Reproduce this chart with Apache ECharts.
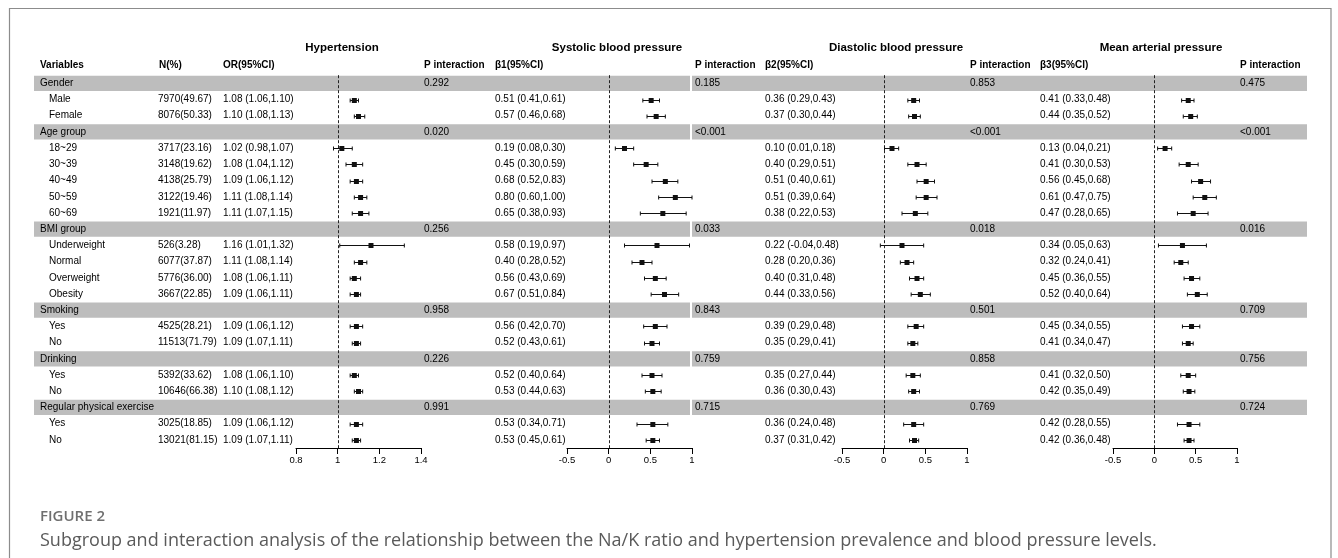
<!DOCTYPE html>
<html>
<head>
<meta charset="utf-8">
<script src="https://cdn.jsdelivr.net/npm/echarts@6/dist/echarts.min.js"></script>
<style>
html,body{margin:0;padding:0;background:#fff;}
#chart{width:1338px;height:558px;}
</style>
</head>
<body>
<div id="chart"></div>
<script>
// ---------------- DATA ----------------
const rowLabels = ['Gender','Male','Female','Age group','18~29','30~39','40~49','50~59','60~69',
  'BMI group','Underweight','Normal','Overweight','Obesity','Smoking','Yes','No',
  'Drinking','Yes','No','Regular physical exercise','Yes','No'];
const groupRows = [0,3,9,14,17,20];
const nPct = ['','7970(49.67)','8076(50.33)','','3717(23.16)','3148(19.62)','4138(25.79)','3122(19.46)','1921(11.97)',
  '','526(3.28)','6077(37.87)','5776(36.00)','3667(22.85)','','4525(28.21)','11513(71.79)',
  '','5392(33.62)','10646(66.38)','','3025(18.85)','13021(81.15)'];

const orEst = [null,1.08,1.10,null,1.02,1.08,1.09,1.11,1.11,null,1.16,1.11,1.08,1.09,null,1.09,1.09,null,1.08,1.10,null,1.09,1.09];
const orLo  = [null,1.06,1.08,null,0.98,1.04,1.06,1.08,1.07,null,1.01,1.08,1.06,1.06,null,1.06,1.07,null,1.06,1.08,null,1.06,1.07];
const orHi  = [null,1.10,1.13,null,1.07,1.12,1.12,1.14,1.15,null,1.32,1.14,1.11,1.11,null,1.12,1.11,null,1.10,1.12,null,1.12,1.11];
const pHyp  = ['0.292','0.020','0.256','0.958','0.226','0.991'];

const sbpEst = [null,0.51,0.57,null,0.19,0.45,0.68,0.80,0.65,null,0.58,0.40,0.56,0.67,null,0.56,0.52,null,0.52,0.53,null,0.53,0.53];
const sbpLo  = [null,0.41,0.46,null,0.08,0.30,0.52,0.60,0.38,null,0.19,0.28,0.43,0.51,null,0.42,0.43,null,0.40,0.44,null,0.34,0.45];
const sbpHi  = [null,0.61,0.68,null,0.30,0.59,0.83,1.00,0.93,null,0.97,0.52,0.69,0.84,null,0.70,0.61,null,0.64,0.63,null,0.71,0.61];
const pSbp   = ['0.185','<0.001','0.033','0.843','0.759','0.715'];

const dbpEst = [null,0.36,0.37,null,0.10,0.40,0.51,0.51,0.38,null,0.22,0.28,0.40,0.44,null,0.39,0.35,null,0.35,0.36,null,0.36,0.37];
const dbpLo  = [null,0.29,0.30,null,0.01,0.29,0.40,0.39,0.22,null,-0.04,0.20,0.31,0.33,null,0.29,0.29,null,0.27,0.30,null,0.24,0.31];
const dbpHi  = [null,0.43,0.44,null,0.18,0.51,0.61,0.64,0.53,null,0.48,0.36,0.48,0.56,null,0.48,0.41,null,0.44,0.43,null,0.48,0.42];
const pDbp   = ['0.853','<0.001','0.018','0.501','0.858','0.769'];

const mapEst = [null,0.41,0.44,null,0.13,0.41,0.56,0.61,0.47,null,0.34,0.32,0.45,0.52,null,0.45,0.41,null,0.41,0.42,null,0.42,0.42];
const mapLo  = [null,0.33,0.35,null,0.04,0.30,0.45,0.47,0.28,null,0.05,0.24,0.36,0.40,null,0.34,0.34,null,0.32,0.35,null,0.28,0.36];
const mapHi  = [null,0.48,0.52,null,0.21,0.53,0.68,0.75,0.65,null,0.63,0.41,0.55,0.64,null,0.55,0.47,null,0.50,0.49,null,0.55,0.48];
const pMap   = ['0.475','<0.001','0.016','0.709','0.756','0.724'];

const panelTitles = ['Hypertension','Systolic blood pressure','Diastolic blood pressure','Mean arterial pressure'];
const ciHeaders = ['OR(95%CI)','β1(95%CI)','β2(95%CI)','β3(95%CI)'];
const hypTicks = {min:0.8, max:1.4, interval:0.2, ref:1};
const betaTicks = {min:-0.5, max:1, interval:0.5, ref:0};

// ---------------- LAYOUT ----------------
const FONT = '"Liberation Sans", Arial, sans-serif';
const GRID_TOP = 75.2, GRID_H = 372.8;       // rows -0.5 .. 22.5
const panels = [
  {est:orEst, lo:orLo, hi:orHi, p:pHyp, ax:hypTicks, left:296, width:125, ciX:223, pX:424, titleX:342},
  {est:sbpEst, lo:sbpLo, hi:sbpHi, p:pSbp, ax:betaTicks, left:567, width:125, ciX:495, pX:695, titleX:617},
  {est:dbpEst, lo:dbpLo, hi:dbpHi, p:pDbp, ax:betaTicks, left:842, width:125, ciX:765, pX:970, titleX:896},
  {est:mapEst, lo:mapLo, hi:mapHi, p:pMap, ax:betaTicks, left:1113, width:124, ciX:1040, pX:1240, titleX:1161}
];
const TITLE_ROW = -2.18, HEAD_ROW = -1.13;

// ---------------- TABLE CELLS ----------------
const cells = [];
function cell(x,row,text,bold,size,align){cells.push({x,row,text,bold:!!bold,size:size||10,align:align||'left'});}
cell(40,HEAD_ROW,'Variables',true);
cell(159,HEAD_ROW,'N(%)',true);
panels.forEach((pn,k)=>{
  cell(pn.titleX,TITLE_ROW,panelTitles[k],true,11.5,'center');
  cell(pn.ciX,HEAD_ROW,ciHeaders[k],true);
  cell(pn.pX,HEAD_ROW,'P interaction',true);
});
const f2 = v => v.toFixed(2);
rowLabels.forEach((lab,i)=>{
  const isG = groupRows.indexOf(i) >= 0;
  cell(isG?40:49,i,lab,false);
  if(nPct[i]) cell(158,i,nPct[i],false);
  panels.forEach(pn=>{
    if(pn.est[i]!=null) cell(pn.ciX,i,f2(pn.est[i])+' ('+f2(pn.lo[i])+','+f2(pn.hi[i])+')',false);
    if(isG) cell(pn.pX,i,pn.p[groupRows.indexOf(i)],false);
  });
});

// ---------------- OPTION ----------------
const grids = [{left:0, width:1338, top:GRID_TOP, height:GRID_H}];
const xAxes = [{type:'value', gridIndex:0, min:0, max:1338, show:false}];
const yAxes = [{type:'value', gridIndex:0, min:-0.5, max:22.5, inverse:true, show:false}];
panels.forEach((pn,k)=>{
  grids.push({left:pn.left, width:pn.width, top:GRID_TOP, height:GRID_H});
  xAxes.push({type:'value', gridIndex:k+1, min:pn.ax.min, max:pn.ax.max, interval:pn.ax.interval,
    axisLine:{show:true, onZero:false, lineStyle:{color:'#000', width:1}},
    axisTick:{show:true, length:6, lineStyle:{color:'#000', width:1}},
    axisLabel:{fontSize:9.5, color:'#000', margin:7, fontFamily:FONT},
    splitLine:{show:false}});
  yAxes.push({type:'value', gridIndex:k+1, min:-0.5, max:22.5, inverse:true, show:false});
});

const series = [];
// grey bands
series.push({
  type:'custom', xAxisIndex:0, yAxisIndex:0, z:1, silent:true,
  data: groupRows.map(r=>[r]),
  renderItem:(params, api)=>{
    const r = api.value(0);
    const segs = [[34,690],[692,1307]];
    return {type:'group', children: segs.map(s=>{
      const a = api.coord([s[0], r-0.47]), b = api.coord([s[1], r+0.47]);
      return {type:'rect', shape:{x:a[0], y:a[1], width:b[0]-a[0], height:b[1]-a[1]}, style:{fill:'#bdbdbd'}};
    })};
  }
});
// text cells
series.push({
  type:'custom', xAxisIndex:0, yAxisIndex:0, z:5, silent:true,
  data: cells.map(c=>[c.x,c.row]),
  renderItem:(params, api)=>{
    const c = cells[params.dataIndex];
    const p = api.coord([api.value(0), api.value(1)]);
    return {type:'text', x:p[0], y:p[1], style:{text:c.text, fill:'#000',
      font:(c.bold?'bold ':'')+c.size+'px '+FONT, align:c.align, verticalAlign:'middle'}};
  }
});
panels.forEach((pn,k)=>{
  // dashed reference line
  series.push({
    type:'custom', xAxisIndex:k+1, yAxisIndex:k+1, z:3, silent:true,
    data:[[pn.ax.ref]],
    renderItem:(params, api)=>{
      const a = api.coord([api.value(0), -0.5]), b = api.coord([api.value(0), 22.5]);
      const x = Math.round(a[0])+0.5;
      return {type:'line', shape:{x1:x, y1:a[1], x2:x, y2:b[1]},
        style:{stroke:'#222', lineWidth:1, lineDash:[3,2]}};
    }
  });
  // forest marks
  const d = [];
  pn.est.forEach((e,i)=>{ if(e!=null) d.push([i, e, pn.lo[i], pn.hi[i]]); });
  series.push({
    type:'custom', xAxisIndex:k+1, yAxisIndex:k+1, z:4, silent:true,
    data:d, encode:{x:[1,2,3], y:0},
    renderItem:(params, api)=>{
      const r = api.value(0);
      const pe = api.coord([api.value(1), r]);
      const pl = api.coord([api.value(2), r]);
      const ph = api.coord([api.value(3), r]);
      const y = Math.round(pe[1])+0.5;
      const st = {stroke:'#111', lineWidth:1};
      return {type:'group', children:[
        {type:'line', shape:{x1:pl[0], y1:y, x2:ph[0], y2:y}, style:st},
        {type:'line', shape:{x1:pl[0], y1:y-2, x2:pl[0], y2:y+2}, style:st},
        {type:'line', shape:{x1:ph[0], y1:y-2, x2:ph[0], y2:y+2}, style:st},
        {type:'rect', shape:{x:pe[0]-2.5, y:y-2.5, width:5, height:5}, style:{fill:'#111'}}
      ]};
    }
  });
});

const option = {
  animation:false,
  backgroundColor:'#fff',
  grid:grids, xAxis:xAxes, yAxis:yAxes, series:series,
  graphic:[
    {type:'rect', shape:{x:9.5, y:8.5, width:1321.5, height:620}, style:{fill:'none', stroke:'#8c8c8c', lineWidth:1.2}, silent:true},
    {type:'text', x:40, y:517, style:{text:'FIGURE 2', fill:'#6f6f6f', font:'600 15px "Open Sans", sans-serif', verticalAlign:'middle'}},
    {type:'text', x:40, y:541, style:{text:'Subgroup and interaction analysis of the relationship between the Na/K ratio and hypertension prevalence and blood pressure levels.', fill:'#5a5a5a', font:'18px "Open Sans", sans-serif', verticalAlign:'middle'}}
  ]
};
const chart = echarts.init(document.getElementById('chart'), null, {renderer:'canvas'});
chart.setOption(option);
</script>
</body>
</html>
